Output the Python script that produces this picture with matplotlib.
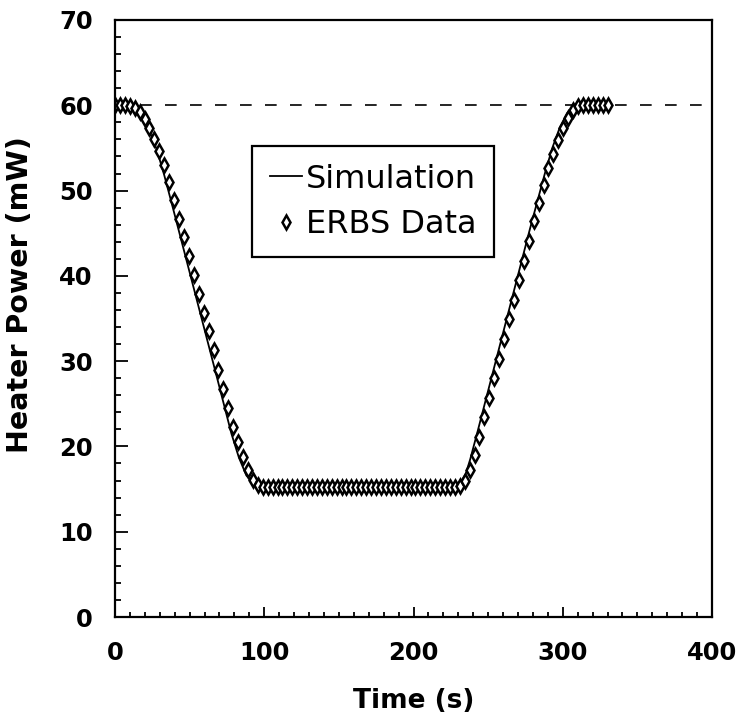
import matplotlib
matplotlib.use("Agg")
import matplotlib.pyplot as plt
import numpy as np

plt.rcParams['font.family'] = ['DejaVu Sans']

# ERBS data, one sample every 3.3 s from 0 to 330 s
data_time = np.round(np.arange(0, 331, 3.3), 1)
data_power = [
    60.0, 60.0, 60.0, 59.9, 59.7, 59.2, 58.4, 57.3, 56.0, 54.6,
    53.0, 51.0, 48.9, 46.7, 44.5, 42.3, 40.1, 37.9, 35.7, 33.5,
    31.3, 29.0, 26.7, 24.5, 22.3, 20.5, 18.8, 17.2, 16.1, 15.5,
    15.3,
    15.3, 15.3, 15.3, 15.3, 15.3, 15.3, 15.3, 15.3, 15.3, 15.3,
    15.3, 15.3, 15.3, 15.3, 15.3, 15.3, 15.3, 15.3, 15.3, 15.3,
    15.3, 15.3, 15.3, 15.3, 15.3, 15.3, 15.3, 15.3, 15.3, 15.3,
    15.3, 15.3, 15.3, 15.3, 15.3, 15.3, 15.3, 15.3, 15.3,
    15.4, 15.9, 17.2, 19.0, 21.1, 23.4, 25.7, 28.0, 30.3, 32.6,
    34.9, 37.2, 39.5, 41.8, 44.1, 46.4, 48.6, 50.7, 52.6, 54.3,
    55.9, 57.3, 58.5, 59.4, 59.9, 60.0, 60.0, 60.0, 60.0, 60.0,
    60.0,
]

# simulation curve
sim_time = [0, 12, 15, 18, 23, 28, 33, 38, 68, 78, 83, 88, 93, 98,
            228, 231, 235, 238, 243, 278, 288, 293, 298, 303, 308, 330]
sim_power = [60.0, 60.0, 59.6, 58.9, 57.0, 54.8, 51.8, 48.5, 28.3, 21.5,
             18.7, 16.6, 15.6, 15.3, 15.3, 15.6, 16.8, 18.5, 21.8, 45.5,
             52.0, 55.0, 57.4, 59.1, 60.0, 60.0]

setpoint = 60

fig = plt.figure(figsize=(7.40, 7.27), dpi=100)
ax = fig.add_axes([0.1554, 0.1513, 0.8068, 0.8212])

ax.axhline(setpoint, color='black', lw=1.2, linestyle=(0, (7, 8)))
ax.plot(sim_time, sim_power, color='black', lw=1.3, label='Simulation')
ax.plot(data_time, data_power, linestyle='none', marker='d', markersize=7.5,
        markerfacecolor='white', markeredgecolor='black', markeredgewidth=1.8,
        label='ERBS Data')

ax.set_xlim(0, 400)
ax.set_ylim(0, 70)
ax.set_xticks([0, 100, 200, 300, 400])
ax.set_yticks([0, 10, 20, 30, 40, 50, 60, 70])
ax.set_xticks(np.arange(0, 401, 10), minor=True)
ax.set_yticks(np.arange(0, 71, 2), minor=True)

for s in ax.spines.values():
    s.set_linewidth(1.6)

ax.tick_params(axis='both', which='both', direction='in', top=False, right=False, width=1.3)
ax.tick_params(axis='x', which='major', length=7, pad=17, labelsize=17.5)
ax.tick_params(axis='x', which='minor', length=3.5)
ax.tick_params(axis='y', which='major', length=9, pad=16, labelsize=17.5)
ax.tick_params(axis='y', which='minor', length=4.5)
for lab in ax.get_xticklabels() + ax.get_yticklabels():
    lab.set_fontweight('bold')

ax.set_xlabel('Time (s)', fontsize=19, fontweight='bold', labelpad=17)
ax.set_ylabel('Heater Power (mW)', fontsize=20.5, fontweight='bold')
ax.yaxis.set_label_coords(-0.135, 0.54)

leg = ax.legend(loc='upper left', bbox_to_anchor=(0.2295, 0.789), fontsize=23,
                frameon=True, fancybox=False, edgecolor='black', framealpha=1,
                handlelength=1.0, handletextpad=0.15, labelspacing=0.45,
                borderpad=0.55, borderaxespad=0, numpoints=1)
leg.get_frame().set_linewidth(1.6)

fig.savefig('out.png', dpi=100)
